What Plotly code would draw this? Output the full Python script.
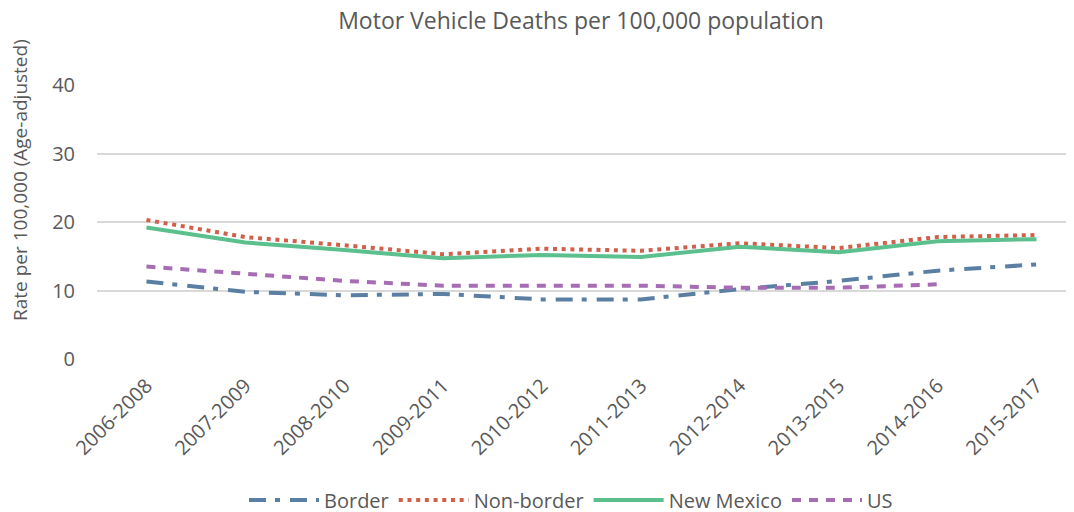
import plotly.graph_objects as go

# Perioder (3-årsintervall) och värden per serie
periods = ["2006-2008", "2007-2009", "2008-2010", "2009-2011", "2010-2012",
           "2011-2013", "2012-2014", "2013-2015", "2014-2016", "2015-2017"]
border = [11.3, 9.8, 9.3, 9.5, 8.7, 8.7, 10.2, 11.4, 12.9, 13.8]
non_border = [20.3, 17.8, 16.6, 15.3, 16.1, 15.8, 16.9, 16.2, 17.8, 18.1]
new_mexico = [19.2, 17.0, 15.9, 14.7, 15.2, 14.9, 16.4, 15.6, 17.2, 17.5]
us = [13.5, 12.5, 11.4, 10.7, 10.7, 10.7, 10.4, 10.4, 10.9, None]

FONT = "Open Sans"
GREY = "#595959"

# sidan har 8px body-marginal, så allt flyttas 8px upp/vänster
L, T, B = 89, 77, 161


def add_line(fig, y, name, color, dash):
    fig.add_trace(go.Scatter(
        x=periods, y=y, name=name, mode="lines",
        line=dict(color=color, width=4, dash=dash),
        connectgaps=False,
    ))


fig = go.Figure()
add_line(fig, border, "Border", "#5B7FA3", "17px,9px,5px,10px")
add_line(fig, non_border, "Non-border", "#D0604A", "4px,4.7px")
add_line(fig, new_mexico, "New Mexico", "#5BC08E", "solid")
add_line(fig, us, "US", "#A66DB4", "9px,8px")

fig.update_layout(
    width=1074, height=512,
    margin=dict(l=L, r=0, t=T, b=B, autoexpand=False),
    paper_bgcolor="white", plot_bgcolor="white",
    font=dict(family=FONT, color=GREY, size=20),
    title=dict(text="Motor Vehicle Deaths per 100,000 population",
               x=573 / 1074, xanchor="center", y=1 - 13 / 512, yanchor="middle",
               font=dict(size=23, color=GREY)),
    legend=dict(orientation="h", xref="container", yref="container",
                x=563 / 1074, xanchor="center", y=1 - 492 / 512, yanchor="middle",
                itemwidth=70, font=dict(size=20, color=GREY),
                traceorder="normal"),
    showlegend=True,
)
fig.update_xaxes(range=[-0.5, 9.46], tickangle=-45, showgrid=False,
                 showline=False, zeroline=False, ticklabelstandoff=10,
                 tickfont=dict(size=20, color=GREY))
fig.update_yaxes(range=[0, 40], dtick=10, showgrid=True, gridcolor="#D9D9D9",
                 gridwidth=1.5, zeroline=False, showline=False,
                 ticklabelstandoff=21, tickfont=dict(size=20, color=GREY))
fig.add_annotation(text="Rate per 100,000 (Age-adjusted)", textangle=-90,
                   xref="paper", yref="paper", xanchor="center", yanchor="middle",
                   x=(12 - L) / 985, y=(351 - 172) / 274,
                   showarrow=False, font=dict(size=19, color=GREY))

fig.write_html("out.html")
